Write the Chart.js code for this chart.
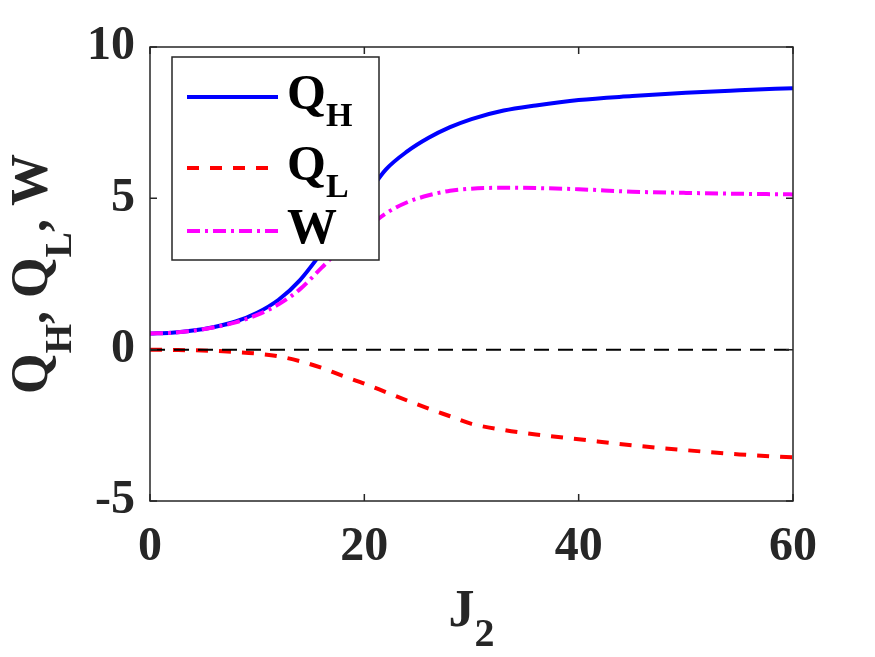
<!DOCTYPE html>
<html>
<head>
<meta charset="utf-8">
<script src="https://cdn.jsdelivr.net/npm/chart.js@4.4.1/dist/chart.umd.min.js"></script>
<style>
  body { margin: 0; background: #fff; }
  canvas { display: block; }
</style>
</head>
<body>
<canvas id="myChart" width="875" height="657"></canvas>
<script>
// J2 values and the three curves
const j2 = [0, 2, 4, 6, 8, 10, 12, 14, 16, 18, 20, 22, 24, 26, 28, 30, 33, 36, 40, 45, 50, 55, 60];
const qH = [0.53, 0.56, 0.63, 0.75, 0.93, 1.22, 1.65, 2.3, 3.2, 4.15, 5.0, 5.95, 6.55, 7.0, 7.35, 7.62, 7.9, 8.07, 8.25, 8.38, 8.49, 8.57, 8.64];
const qL = [0, -0.01, -0.02, -0.04, -0.08, -0.13, -0.22, -0.38, -0.6, -0.87, -1.12, -1.4, -1.68, -1.95, -2.2, -2.45, -2.65, -2.8, -2.96, -3.16, -3.32, -3.46, -3.56];
const w = [0.53, 0.56, 0.62, 0.74, 0.9, 1.15, 1.5, 2.0, 2.7, 3.4, 3.95, 4.5, 4.87, 5.1, 5.25, 5.32, 5.35, 5.34, 5.3, 5.22, 5.18, 5.15, 5.13];
const zeroLine = [0, 0];
const zeroX = [0, 60];
const xTicks = [0, 20, 40, 60];
const yTicks = [-5, 0, 5, 10];

const serif = '"Liberation Serif", "Times New Roman", serif';
const axisColor = '#262626';

function pts(xs, ys) {
  return xs.map((x, i) => ({ x: x, y: ys[i] }));
}

// draws text made of normal and subscript pieces, returns width
function drawParts(ctx, parts, x, y, size, subSize, subDy, measureOnly) {
  let cx = x;
  parts.forEach(p => {
    ctx.font = 'bold ' + (p.sub ? subSize : size) + 'px ' + serif;
    if (!measureOnly) ctx.fillText(p.t, cx, p.sub ? y + subDy : y);
    cx += ctx.measureText(p.t).width;
  });
  return cx - x;
}

const legendItems = [
  { parts: [{ t: 'Q' }, { t: 'H', sub: true }], color: '#0000ff', dash: [] },
  { parts: [{ t: 'Q' }, { t: 'L', sub: true }], color: '#ff0000', dash: [12, 11] },
  { parts: [{ t: 'W' }], color: '#ff00ff', dash: [13, 5, 3, 5] }
];

const decorations = {
  id: 'decorations',
  afterDraw(chart) {
    const ctx = chart.ctx;
    const a = chart.chartArea;
    const xs = chart.scales.x, ys = chart.scales.y;
    ctx.save();

    // axes box
    ctx.strokeStyle = axisColor;
    ctx.lineWidth = 1.5;
    ctx.setLineDash([]);
    ctx.strokeRect(a.left, a.top, a.right - a.left, a.bottom - a.top);

    // inward tick marks on all four sides
    const tl = 7;
    ctx.beginPath();
    xTicks.forEach(v => {
      const px = xs.getPixelForValue(v);
      ctx.moveTo(px, a.bottom); ctx.lineTo(px, a.bottom - tl);
      ctx.moveTo(px, a.top); ctx.lineTo(px, a.top + tl);
    });
    yTicks.forEach(v => {
      const py = ys.getPixelForValue(v);
      ctx.moveTo(a.left, py); ctx.lineTo(a.left + tl, py);
      ctx.moveTo(a.right, py); ctx.lineTo(a.right - tl, py);
    });
    ctx.stroke();

    ctx.fillStyle = axisColor;
    ctx.textBaseline = 'alphabetic';
    ctx.textAlign = 'left';

    // x title J2
    const xParts = [{ t: 'J' }, { t: '2', sub: true }];
    const xw = drawParts(ctx, xParts, 0, 0, 52, 40, 20, true);
    drawParts(ctx, xParts, (a.left + a.right) / 2 - xw / 2, 626, 52, 40, 20);

    // y title QH, QL, W rotated
    const yParts = [{ t: 'Q' }, { t: 'H', sub: true }, { t: ', ' }, { t: 'Q' }, { t: 'L', sub: true }, { t: ', ' }, { t: 'W' }];
    const yw = drawParts(ctx, yParts, 0, 0, 52, 38, 24, true);
    ctx.translate(47, (a.top + a.bottom) / 2);
    ctx.rotate(-Math.PI / 2);
    drawParts(ctx, yParts, -yw / 2, 0, 52, 38, 24);
    ctx.setTransform(1, 0, 0, 1, 0, 0);

    // legend box
    const bx = 172, by = 57, bw = 207, bh = 203;
    ctx.fillStyle = '#ffffff';
    ctx.fillRect(bx, by, bw, bh);
    ctx.strokeStyle = axisColor;
    ctx.lineWidth = 1.5;
    ctx.strokeRect(bx, by, bw, bh);
    const rows = [97, 168, 231];
    legendItems.forEach((it, i) => {
      ctx.strokeStyle = it.color;
      ctx.lineWidth = 4;
      ctx.setLineDash(it.dash);
      ctx.beginPath();
      ctx.moveTo(187, rows[i]);
      ctx.lineTo(278, rows[i]);
      ctx.stroke();
      ctx.setLineDash([]);
      ctx.fillStyle = '#000000';
      drawParts(ctx, it.parts, 287, rows[i] + 12, 50, 34, 17);
    });
    ctx.restore();
  }
};

const ctx = document.getElementById('myChart');
const myChart = new Chart(ctx, {
  type: 'line',
  data: {
    datasets: [
      { label: 'zero', data: pts(zeroX, zeroLine), borderColor: '#000000', borderWidth: 2, borderDash: [15, 9] },
      { label: 'W', data: pts(j2, w), borderColor: '#ff00ff', borderWidth: 4, borderDash: [13, 5, 3, 5], cubicInterpolationMode: 'monotone' },
      { label: 'QL', data: pts(j2, qL), borderColor: '#ff0000', borderWidth: 4, borderDash: [12, 11], cubicInterpolationMode: 'monotone' },
      { label: 'QH', data: pts(j2, qH), borderColor: '#0000ff', borderWidth: 4, cubicInterpolationMode: 'monotone' }
    ]
  },
  options: {
    responsive: false,
    animation: false,
    devicePixelRatio: 1,
    elements: { point: { radius: 0 } },
    layout: { padding: { top: 47, right: 82, left: 0, bottom: 0 } },
    plugins: { legend: { display: false }, tooltip: { enabled: false } },
    scales: {
      x: {
        type: 'linear', min: 0, max: 60,
        afterFit: s => { s.height = 156; },
        afterBuildTicks: s => { s.ticks = xTicks.map(v => ({ value: v })); },
        grid: { display: false, drawTicks: false },
        border: { display: false },
        ticks: { color: axisColor, padding: 18, font: { family: serif, size: 48, weight: 'bold' } }
      },
      y: {
        type: 'linear', min: -5, max: 10,
        afterFit: s => { s.width = 150; },
        afterBuildTicks: s => { s.ticks = yTicks.map(v => ({ value: v })); },
        grid: { display: false, drawTicks: false },
        border: { display: false },
        ticks: { color: axisColor, padding: 15, font: { family: serif, size: 48, weight: 'bold' } }
      }
    }
  },
  plugins: [decorations]
});
</script>
</body>
</html>
